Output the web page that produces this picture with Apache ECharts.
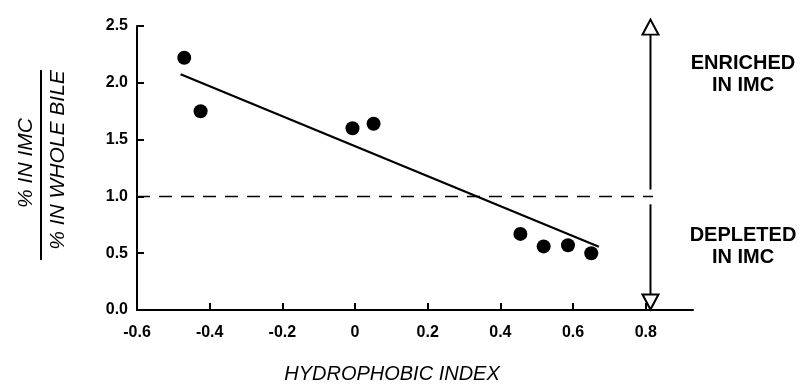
<!DOCTYPE html>
<html>
<head>
<meta charset="utf-8">
<script src="https://cdn.jsdelivr.net/npm/echarts@6/dist/echarts.min.js"></script>
<style>
  html, body { margin: 0; padding: 0; background: #fff; }
  #chart { width: 805px; height: 387px; }
</style>
</head>
<body>
<div id="chart"></div>
<script>
// measured points: hydrophobic index vs ratio (% in IMC / % in whole bile)
const hydroIndex = [-0.47, -0.425, -0.007, 0.051, 0.455, 0.519, 0.586, 0.65];
const ratio = [2.22, 1.75, 1.60, 1.64, 0.67, 0.56, 0.57, 0.50];

// regression line end points
const fitX = [-0.48, 0.671];
const fitY = [2.075, 0.557];

// reference line at ratio = 1
const refX = [-0.6, 0.82];
const refY = [1.0, 1.0];

// annotation arrow
const arrowX = 0.813;
const arrowUpY = [1.06, 2.42];
const arrowDownY = [0.93, 0.13];
const arrowHeadY = [2.49, 0.07];

const xTicks = [-0.6, -0.4, -0.2, 0, 0.2, 0.4, 0.6, 0.8];
const yTicks = [0, 0.5, 1.0, 1.5, 2.0, 2.5];

const font = '"Liberation Sans", Arial, Helvetica, sans-serif';

const myChart = echarts.init(document.getElementById('chart'), undefined, { renderer: 'canvas' });

const pairs = (xs, ys) => xs.map((x, i) => [x, ys[i]]);

const option = {
  animation: false,
  backgroundColor: '#fff',
  grid: { left: 137, right: 112, top: 26, bottom: 77 },
  xAxis: {
    type: 'value',
    min: -0.6,
    max: 0.93,
    interval: 0.2,
    axisLine: { onZero: false, lineStyle: { color: '#000', width: 2 } },
    axisTick: { show: true, inside: true, length: 7, lineStyle: { color: '#000', width: 2 }, customValues: xTicks },
    axisLabel: {
      customValues: xTicks,
      color: '#000', fontFamily: font, fontWeight: 'bold', fontSize: 16, margin: 15,
      formatter: v => (Math.abs(v) < 1e-9 ? '0' : v.toFixed(1))
    },
    splitLine: { show: false }
  },
  yAxis: {
    type: 'value',
    min: 0,
    max: 2.5,
    interval: 0.5,
    axisLine: { show: true, onZero: false, lineStyle: { color: '#000', width: 2 } },
    axisTick: { show: true, inside: true, length: 7, lineStyle: { color: '#000', width: 2 }, customValues: yTicks },
    axisLabel: {
      customValues: yTicks,
      color: '#000', fontFamily: font, fontWeight: 'bold', fontSize: 16, margin: 9,
      formatter: v => v.toFixed(1)
    },
    splitLine: { show: false }
  },
  series: [
    {
      type: 'line',
      data: pairs(refX, refY),
      symbol: 'none',
      clip: false,
      lineStyle: { color: '#000', width: 1.5, type: [13, 9] },
      silent: true
    },
    {
      type: 'line',
      data: pairs(fitX, fitY),
      symbol: 'none',
      lineStyle: { color: '#000', width: 2.2 },
      silent: true
    },
    {
      type: 'line',
      data: pairs([arrowX, arrowX], arrowUpY),
      symbol: 'none',
      clip: false,
      lineStyle: { color: '#000', width: 2 },
      silent: true
    },
    {
      type: 'line',
      data: pairs([arrowX, arrowX], arrowDownY),
      symbol: 'none',
      clip: false,
      lineStyle: { color: '#000', width: 2 },
      silent: true
    },
    {
      type: 'scatter',
      data: [
        { value: [arrowX, arrowHeadY[0]], symbolRotate: 0 },
        { value: [arrowX, arrowHeadY[1]], symbolRotate: 180 }
      ],
      symbol: 'triangle',
      symbolSize: [16, 15],
      clip: false,
      z: 5,
      itemStyle: { color: '#fff', borderColor: '#000', borderWidth: 2, opacity: 1 },
      silent: true
    },
    {
      type: 'scatter',
      data: pairs(hydroIndex, ratio),
      symbol: 'circle',
      symbolSize: 14,
      z: 6,
      itemStyle: { color: '#000', opacity: 1 }
    }
  ],
  graphic: [
    {
      type: 'text', x: 26, y: 163, rotation: Math.PI / 2,
      style: { text: '% IN IMC', font: 'italic 21px ' + font, fill: '#000', textAlign: 'center', textVerticalAlign: 'middle' }
    },
    {
      type: 'line',
      shape: { x1: 41, y1: 70, x2: 41, y2: 260 },
      style: { stroke: '#000', lineWidth: 2 }
    },
    {
      type: 'text', x: 58, y: 160, rotation: Math.PI / 2,
      style: { text: '% IN WHOLE BILE', font: 'italic 21px ' + font, fill: '#000', textAlign: 'center', textVerticalAlign: 'middle' }
    },
    {
      type: 'text', x: 392, y: 374,
      style: { text: 'HYDROPHOBIC INDEX', font: 'italic 20px ' + font, fill: '#000', textAlign: 'center', textVerticalAlign: 'middle' }
    },
    {
      type: 'text', x: 743, y: 74,
      style: { text: 'ENRICHED\nIN IMC', font: 'bold 20px ' + font, lineHeight: 22, fill: '#000', textAlign: 'center', textVerticalAlign: 'middle' }
    },
    {
      type: 'text', x: 743, y: 246,
      style: { text: 'DEPLETED\nIN IMC', font: 'bold 20px ' + font, lineHeight: 22, fill: '#000', textAlign: 'center', textVerticalAlign: 'middle' }
    }
  ]
};

myChart.setOption(option);
window.addEventListener('resize', () => {
  myChart.resize();
});
</script>
</body>
</html>
